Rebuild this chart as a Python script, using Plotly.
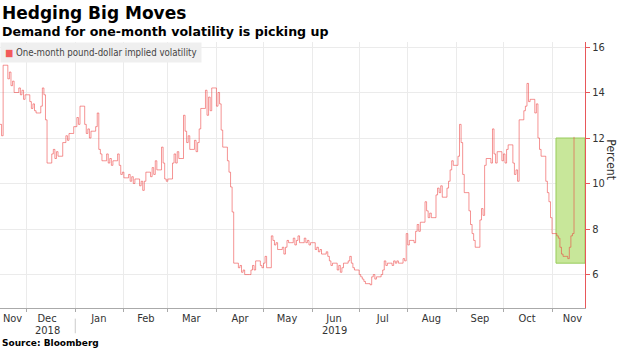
import plotly.graph_objects as go

# ---- data ----
dates = [
    "2018-11-14","2018-11-15","2018-11-16","2018-11-19","2018-11-20","2018-11-21","2018-11-22","2018-11-23",
    "2018-11-26","2018-11-27","2018-11-28","2018-11-29","2018-11-30",
    "2018-12-03","2018-12-04","2018-12-05","2018-12-06","2018-12-07","2018-12-10","2018-12-11","2018-12-12",
    "2018-12-13","2018-12-14","2018-12-17","2018-12-18","2018-12-19","2018-12-20","2018-12-21","2018-12-24",
    "2018-12-26","2018-12-27","2018-12-28","2018-12-31",
    "2019-01-02","2019-01-03","2019-01-04","2019-01-07","2019-01-08","2019-01-09","2019-01-10","2019-01-11",
    "2019-01-14","2019-01-15","2019-01-16","2019-01-17","2019-01-18","2019-01-21","2019-01-22","2019-01-23",
    "2019-01-24","2019-01-25","2019-01-28","2019-01-29","2019-01-30","2019-01-31",
    "2019-02-01","2019-02-04","2019-02-05","2019-02-06","2019-02-07","2019-02-08","2019-02-11","2019-02-12",
    "2019-02-13","2019-02-14","2019-02-15","2019-02-18","2019-02-19","2019-02-20","2019-02-21","2019-02-22",
    "2019-02-25","2019-02-26","2019-02-27","2019-02-28",
    "2019-03-01","2019-03-04","2019-03-05","2019-03-06","2019-03-07","2019-03-08","2019-03-11","2019-03-12",
    "2019-03-13","2019-03-14","2019-03-15","2019-03-18","2019-03-19","2019-03-20","2019-03-21","2019-03-22",
    "2019-03-25","2019-03-26","2019-03-27","2019-03-28","2019-03-29",
    "2019-04-01","2019-04-02","2019-04-03","2019-04-04","2019-04-05","2019-04-08","2019-04-09","2019-04-10",
    "2019-04-11","2019-04-12","2019-04-15","2019-04-16","2019-04-17","2019-04-18","2019-04-19","2019-04-22",
    "2019-04-23","2019-04-24","2019-04-25","2019-04-26","2019-04-29","2019-04-30",
    "2019-05-01","2019-05-02","2019-05-03","2019-05-06","2019-05-07","2019-05-08","2019-05-09","2019-05-10",
    "2019-05-13","2019-05-14","2019-05-15","2019-05-16","2019-05-17","2019-05-20","2019-05-21","2019-05-22",
    "2019-05-23","2019-05-24","2019-05-27","2019-05-28","2019-05-29","2019-05-30","2019-05-31",
    "2019-06-03","2019-06-04","2019-06-05","2019-06-06","2019-06-07","2019-06-10","2019-06-11","2019-06-12",
    "2019-06-13","2019-06-14","2019-06-17","2019-06-18","2019-06-19","2019-06-20","2019-06-21","2019-06-24",
    "2019-06-25","2019-06-26","2019-06-27","2019-06-28",
    "2019-07-01","2019-07-02","2019-07-03","2019-07-04","2019-07-05","2019-07-08","2019-07-09","2019-07-10",
    "2019-07-11","2019-07-12","2019-07-15","2019-07-16","2019-07-17","2019-07-18","2019-07-19","2019-07-22",
    "2019-07-23","2019-07-24","2019-07-25","2019-07-26","2019-07-29","2019-07-30","2019-07-31",
    "2019-08-01","2019-08-02","2019-08-05","2019-08-06","2019-08-07","2019-08-08","2019-08-09","2019-08-12",
    "2019-08-13","2019-08-14","2019-08-15","2019-08-16","2019-08-19","2019-08-20","2019-08-21","2019-08-22",
    "2019-08-23","2019-08-26","2019-08-27","2019-08-28","2019-08-29","2019-08-30",
    "2019-09-02","2019-09-03","2019-09-04","2019-09-05","2019-09-06","2019-09-09","2019-09-10","2019-09-11",
    "2019-09-12","2019-09-13","2019-09-16","2019-09-17","2019-09-18","2019-09-19","2019-09-20","2019-09-23",
    "2019-09-24","2019-09-25","2019-09-26","2019-09-27","2019-09-30",
    "2019-10-01","2019-10-02","2019-10-03","2019-10-04","2019-10-07","2019-10-08","2019-10-09","2019-10-10",
    "2019-10-11","2019-10-14","2019-10-15","2019-10-16","2019-10-17","2019-10-18","2019-10-21","2019-10-22",
    "2019-10-23","2019-10-24","2019-10-25","2019-10-28","2019-10-29","2019-10-30","2019-10-31",
    "2019-11-01","2019-11-04","2019-11-05","2019-11-06","2019-11-07","2019-11-08","2019-11-11","2019-11-12",
    "2019-11-13","2019-11-14","2019-11-15",
]
volatility = [
    12.6,12.1,15.2,14.6,14.9,14.3,14.5,14.0,
    14.2,13.9,14.1,13.7,13.9,
    13.6,13.3,13.5,13.2,13.1,13.4,14.2,13.9,
    12.8,10.9,11.3,11.5,11.1,11.4,11.2,11.8,
    12.1,11.9,12.2,12.5,
    12.9,12.6,13.4,12.6,12.2,12.4,12.0,12.3,
    12.5,13.1,11.5,11.3,11.0,11.3,10.9,11.1,
    10.8,11.0,11.3,10.8,10.4,10.5,
    10.25,10.4,10.1,10.3,10.0,10.2,9.9,10.1,
    9.7,10.1,10.5,10.3,10.7,10.4,11.0,10.6,
    11.6,10.9,10.2,10.1,
    10.2,10.9,11.3,10.9,11.4,11.1,13.0,12.3,
    11.8,12.1,11.5,11.9,11.4,11.8,12.4,13.3,
    14.1,13.0,13.8,13.2,14.2,
    13.4,14.0,13.5,12.35,11.6,11.0,10.5,9.85,
    8.75,6.5,6.3,6.4,6.1,6.2,6.0,6.0,
    6.2,6.4,6.2,6.6,6.4,6.3,
    6.5,6.8,6.3,7.7,7.5,7.3,7.4,7.1,
    7.2,6.9,7.2,7.5,7.4,7.6,7.3,7.5,
    7.7,7.4,7.6,7.4,7.5,7.3,7.4,
    7.1,7.2,7.0,7.1,6.9,7.0,6.8,6.6,
    6.4,6.5,6.2,6.4,6.1,6.3,6.5,6.6,
    6.8,6.5,6.3,6.2,
    6.0,5.9,5.8,5.7,5.6,5.55,5.9,6.0,
    5.8,5.9,6.0,6.2,6.6,6.4,6.5,6.4,
    6.6,6.5,6.6,6.5,6.7,6.6,7.8,
    7.3,7.5,7.4,7.9,8.2,7.9,8.3,9.2,
    8.8,8.5,8.7,8.5,9.5,9.8,9.6,9.9,
    9.4,9.8,10.1,10.6,11.0,10.8,
    11.2,12.6,11.8,10.4,9.6,8.8,8.2,7.8,
    7.5,7.2,8.4,8.9,8.6,10.8,11.1,10.9,
    12.4,11.3,10.9,11.4,11.0,
    11.3,10.9,11.5,11.7,10.9,10.4,10.6,10.1,
    12.8,13.2,13.4,14.4,13.6,13.7,13.1,13.5,
    12.0,11.5,11.2,10.1,9.6,9.2,8.5,
    7.8,7.7,7.6,7.2,6.9,6.8,6.7,7.2,
    7.7,7.8,12.05,
]

month_label_dates = ["2018-11-22","2018-12-14","2019-01-16","2019-02-15","2019-03-16","2019-04-16",
                     "2019-05-16","2019-06-15","2019-07-16","2019-08-16","2019-09-16","2019-10-16","2019-11-14"]
month_labels = ["Nov","Dec","Jan","Feb","Mar","Apr","May","Jun","Jul","Aug","Sep","Oct","Nov"]
year_label_dates = ["2018-12-14", "2019-06-15"]
year_labels = ["2018", "2019"]
y_ticks = [6, 8, 10, 12, 14, 16]

x_range = ["2018-11-14", "2019-11-22"]
y_range = [4.53, 16.22]

highlight_start = "2019-11-03 12:00"
highlight_end = "2019-11-22"
highlight_low = 6.5
highlight_high = 12.0

series_name = "One-month pound-dollar implied volatility"

FONT = "DejaVu Sans Condensed, DejaVu Sans, sans-serif"
BOLD = "DejaVu Sans, sans-serif"

fig = go.Figure()
fig.add_trace(go.Scatter(
    x=dates, y=volatility, mode="lines", line_shape="hv",
    line=dict(color="rgba(236,60,60,0.55)", width=1),
    name=series_name, showlegend=False,
))

fig.add_shape(type="rect", xref="x", yref="y",
              x0=highlight_start, x1=highlight_end, y0=highlight_low, y1=highlight_high,
              fillcolor="#c8e79a", line=dict(color="#98cc5c", width=1), layer="between")

# separator between year labels
fig.add_shape(type="line", xref="x", yref="paper", x0="2019-01-01", x1="2019-01-01",
              y0=-0.04, y1=-0.095, line=dict(color="#cccccc", width=1))

fig.update_layout(
    width=620, height=348,
    margin=dict(l=0, r=35, t=42, b=40),
    paper_bgcolor="white", plot_bgcolor="white",
    font=dict(family=FONT, size=11, color="#333333"),
    xaxis=dict(
        type="date", range=x_range,
        tickmode="array", tickvals=month_label_dates, ticktext=month_labels,
        ticks="", showgrid=False, showline=True, linecolor="#aaaaaa", linewidth=1,
        tickfont=dict(size=11, color="#333333", family=FONT),
        minor=dict(dtick="M1", tick0="2018-12-01", showgrid=True, gridcolor="#ebebeb",
                   ticks="outside", ticklen=3, tickcolor="#aaaaaa"),
        zeroline=False,
    ),
    yaxis=dict(
        side="right", range=y_range, tickvals=y_ticks,
        showgrid=True, gridcolor="#ebebeb", showline=True, linecolor="#e8575a", linewidth=1,
        ticks="outside", ticklen=4, tickcolor="#e8575a",
        tickfont=dict(size=11, color="#333333", family=FONT), zeroline=False,
    ),
)

for d, t in zip(year_label_dates, year_labels):
    fig.add_annotation(xref="x", yref="paper", x=d, y=-0.083, xanchor="center", yanchor="middle",
                       text=t, showarrow=False, font=dict(family=FONT, size=11, color="#333333"))

fig.add_annotation(xref="paper", yref="paper", x=0.0, y=1.11, xanchor="left", yanchor="middle",
                   text="<b>Hedging Big Moves</b>", showarrow=False,
                   font=dict(family=BOLD, size=17, color="#000000"))
fig.add_annotation(xref="paper", yref="paper", x=0.0, y=1.038, xanchor="left", yanchor="middle",
                   text="<b>Demand for one-month volatility is picking up</b>", showarrow=False,
                   font=dict(family=BOLD, size=12.6, color="#000000"))
fig.add_annotation(xref="paper", yref="paper", x=0.0, y=0.962, xanchor="left", yanchor="middle",
                   text='<span style="color:#f25b5b">■</span> ' + series_name, showarrow=False,
                   bgcolor="#efefef", borderpad=4,
                   font=dict(family=FONT, size=9.6, color="#444444"))
fig.add_annotation(xref="paper", yref="paper", x=1.044, y=0.556, xanchor="center", yanchor="middle",
                   text="Percent", textangle=90, showarrow=False,
                   font=dict(family=FONT, size=12, color="#333333"))
fig.add_annotation(xref="paper", yref="paper", x=0.0, y=-0.131, xanchor="left", yanchor="middle",
                   text="<b>Source: Bloomberg</b>", showarrow=False,
                   font=dict(family=BOLD, size=9, color="#000000"))

fig.write_html("out.html")
